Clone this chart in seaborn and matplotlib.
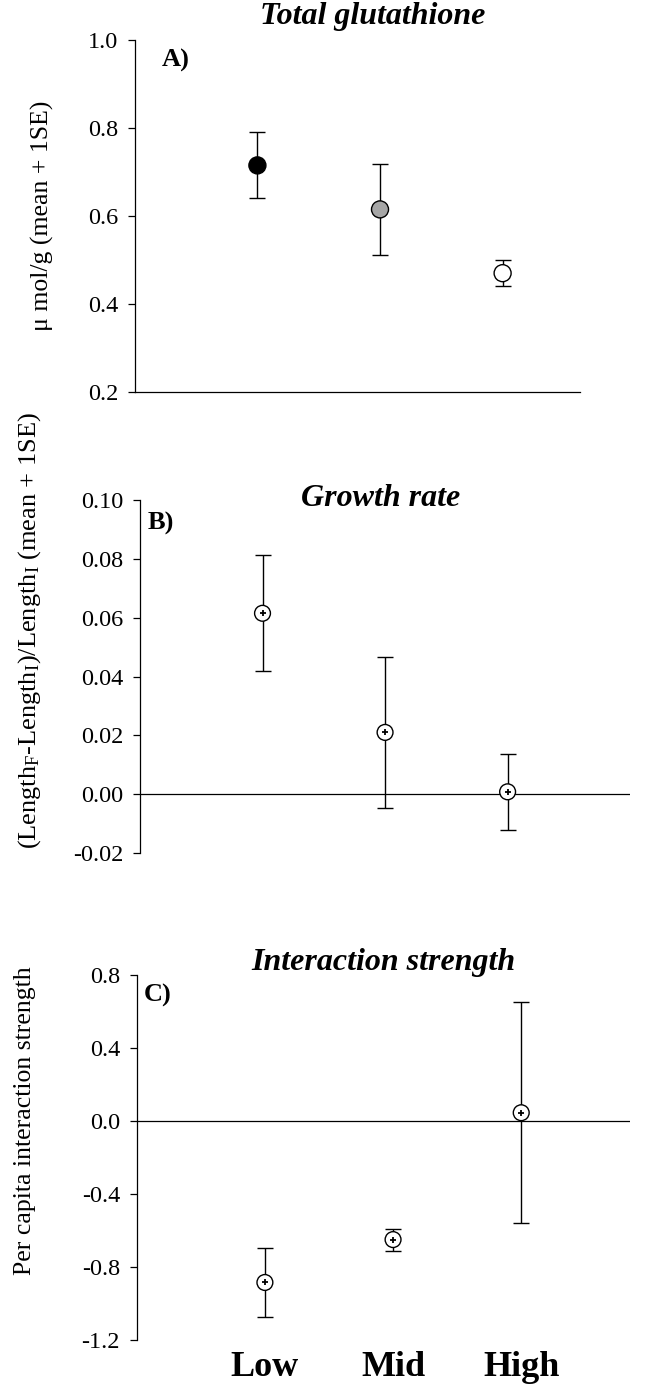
import matplotlib
matplotlib.use('Agg')
import matplotlib.pyplot as plt
import pandas as pd
import seaborn as sns

# Values
groups = ['Low', 'Mid', 'High']
positions = [1, 2, 3]

glut_mean = [0.715, 0.615, 0.470]
glut_se = [0.075, 0.103, 0.030]
glut_colors = ['black', '#a6a6a6', 'white']

growth_mean = [0.0615, 0.0210, 0.0008]
growth_se = [0.0197, 0.0257, 0.0130]

inter_mean = [-0.885, -0.650, 0.045]
inter_se = [0.188, 0.060, 0.605]

sns.set_style('white')
plt.rcParams['font.family'] = ['Liberation Serif', 'DejaVu Serif']
plt.rcParams['text.color'] = 'black'
plt.rcParams['axes.labelcolor'] = 'black'
plt.rcParams['xtick.color'] = 'black'
plt.rcParams['ytick.color'] = 'black'
plt.rcParams['mathtext.fontset'] = 'custom'
plt.rcParams['mathtext.rm'] = 'Liberation Serif'
plt.rcParams['mathtext.it'] = 'Liberation Serif:italic'

fig = plt.figure(figsize=(6.45, 13.89), dpi=100)
ax_a = fig.add_axes([0.209, 0.7178, 0.69, 0.2534])
ax_b = fig.add_axes([0.217, 0.3859, 0.76, 0.2541])
ax_c = fig.add_axes([0.212, 0.0353, 0.765, 0.2628])

TICK_FS = 17.5
TITLE_FS = 23
LETTER_FS = 19
YLAB_FS = 18.5


def style_axis(ax, ylim, ticks, fmt, xmax=4):
    ax.set_xlim(0, xmax)
    ax.set_ylim(*ylim)
    ax.set_yticks(ticks)
    ax.set_yticklabels([fmt.format(t) for t in ticks], fontsize=TICK_FS)
    ax.set_xticks([])
    ax.tick_params(axis='y', direction='out', length=5, width=0.9,
                   color='black', left=True, pad=7)
    for s in ['top', 'right']:
        ax.spines[s].set_visible(False)
    ax.spines['left'].set_color('black')
    ax.spines['left'].set_linewidth(0.9)
    ax.set_xlabel('')
    ax.set_facecolor('none')


def draw_points(ax, mean, se, colors, plus, size):
    df = pd.DataFrame({'x': positions, 'y': mean, 'g': groups})
    ax.errorbar(df.x, df.y, yerr=se, fmt='none', ecolor='black',
                elinewidth=1.0, capsize=6, capthick=1.0, zorder=2)
    sns.scatterplot(data=df, x='x', y='y', hue='g', palette=dict(zip(groups, colors)),
                    s=size, edgecolor='black', linewidth=1.0, legend=False,
                    ax=ax, zorder=3)
    if plus:
        sns.scatterplot(data=df, x='x', y='y', marker='+', color='black',
                        s=25, linewidth=1.3, legend=False, ax=ax, zorder=4)
    ax.set_xlabel('')
    ax.set_ylabel('')


# A) Total glutathione
draw_points(ax_a, glut_mean, glut_se, glut_colors, plus=False, size=150)
style_axis(ax_a, (0.2, 1.0), [0.2, 0.4, 0.6, 0.8, 1.0], '{:.1f}', xmax=3.63)
ax_a.spines['bottom'].set_color('black')
ax_a.spines['bottom'].set_linewidth(0.9)
ax_a.set_ylabel('\u03bc mol/g (mean + 1SE)', fontsize=YLAB_FS)
ax_a.yaxis.set_label_coords(-0.182, 0.5)
ax_a.text(0.535, 1.068, 'Total glutathione', transform=ax_a.transAxes,
          ha='center', va='center', fontsize=TITLE_FS, fontweight='bold', style='italic')
ax_a.text(0.06, 0.975, 'A)', transform=ax_a.transAxes, ha='left', va='top',
          fontsize=LETTER_FS, fontweight='bold')

# B) Growth rate
draw_points(ax_b, growth_mean, growth_se, ['white'] * 3, plus=True, size=130)
style_axis(ax_b, (-0.02, 0.10), [-0.02, 0.0, 0.02, 0.04, 0.06, 0.08, 0.10], '{:.2f}')
ax_b.spines['bottom'].set_visible(False)
ax_b.axhline(0, color='black', linewidth=0.9, zorder=1)
ax_b.set_ylabel('(Length$_{\\mathrm{F}}$-Length$_{\\mathrm{I}}$)/Length$_{\\mathrm{I}}$ (mean + 1SE)',
                fontsize=YLAB_FS + 0.5)
ax_b.yaxis.set_label_coords(-0.197, 0.63)
ax_b.text(0.49, 1.005, 'Growth rate', transform=ax_b.transAxes,
          ha='center', va='center', fontsize=TITLE_FS, fontweight='bold', style='italic')
ax_b.text(0.015, 0.965, 'B)', transform=ax_b.transAxes, ha='left', va='top',
          fontsize=LETTER_FS, fontweight='bold')

# C) Interaction strength
draw_points(ax_c, inter_mean, inter_se, ['white'] * 3, plus=True, size=130)
style_axis(ax_c, (-1.2, 0.8), [-1.2, -0.8, -0.4, 0.0, 0.4, 0.8], '{:.1f}', xmax=3.85)
ax_c.spines['bottom'].set_visible(False)
ax_c.axhline(0, color='black', linewidth=0.9, zorder=1)
ax_c.set_ylabel('Per capita interaction strength', fontsize=YLAB_FS)
ax_c.yaxis.set_label_coords(-0.205, 0.6)
ax_c.text(0.5, 1.035, 'Interaction strength', transform=ax_c.transAxes,
          ha='center', va='center', fontsize=TITLE_FS, fontweight='bold', style='italic')
ax_c.text(0.015, 0.975, 'C)', transform=ax_c.transAxes, ha='left', va='top',
          fontsize=LETTER_FS, fontweight='bold')
ax_c.set_xticks(positions)
ax_c.set_xticklabels(groups, fontsize=26, fontweight='bold')
ax_c.tick_params(axis='x', length=0, pad=8)

fig.savefig('out.png', dpi=100)
